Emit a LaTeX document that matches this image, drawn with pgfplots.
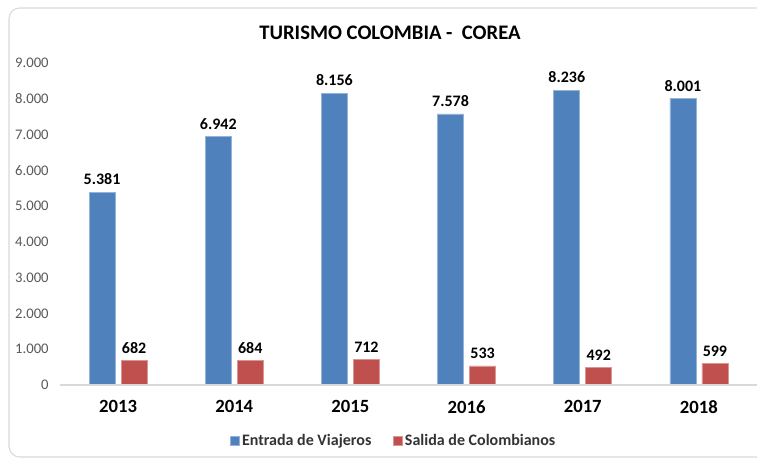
\documentclass[border=0pt]{standalone}
\usepackage{pgfplots}
\pgfplotsset{compat=1.18}
\usepackage{fontspec}
\setmainfont{Carlito}
\definecolor{cblue}{HTML}{4F81BD}
\definecolor{cred}{HTML}{C0504D}
\definecolor{tickgray}{HTML}{595959}
\definecolor{axgray}{HTML}{D9D9D9}
\begin{document}
\begin{tikzpicture}[x=1pt,y=1pt]
\path[use as bounding box] (0,0) rectangle (567.75,345);
\draw[axgray, line width=0.8pt, rounded corners=8pt] (6.75,339) rectangle (585,2.25);
\node[font=\bfseries\fontsize{15.5}{15.5}\selectfont, text=black] at (292.5,320.25) {TURISMO COLOMBIA -\ \ COREA};
\begin{axis}[
  at={(45pt,56.25pt)}, anchor=south west,
  scale only axis, width=522.75pt, height=241.5pt,
  xmin=-0.5, xmax=5.5, ymin=0, ymax=9000,
  ybar=4.5pt, bar width=19.5pt,
  axis line style={draw=none},
  axis x line*=bottom, axis y line*=left,
  xtick=data, xticklabels={2013,2014,2015,2016,2017,2018},
  x tick label style={font=\bfseries\fontsize{14}{14}\selectfont, text=black, yshift=-8pt},
  ytick={0,1000,...,9000},
  y tick label style={font=\fontsize{11}{11}\selectfont, text=tickgray, xshift=-5pt},
  major tick length=0pt,
  /pgf/number format/.cd, 1000 sep={.}, assume math mode=true,
  /pgfplots/.cd,
  nodes near coords,
  every node near coord/.append style={font=\bfseries\fontsize{12}{12}\selectfont, text=black, yshift=2pt},
  legend columns=2,
  legend style={draw=none, fill=none, at={(0.479,-0.174)}, anchor=center,
    font=\bfseries\fontsize{12}{12}\selectfont, text=black!80,
    /tikz/every even column/.append style={column sep=14pt}},
  legend image code/.code={\fill[#1] (0pt,-3.4pt) rectangle (6.8pt,3.4pt);},
  clip=false,
]
\addplot[fill=cblue, draw=cblue!60!white, line width=0.4pt] coordinates {(0,5381) (1,6942) (2,8156) (3,7578) (4,8236) (5,8001)};
\addplot[fill=cred, draw=cred!60!white, line width=0.4pt] coordinates {(0,682) (1,684) (2,712) (3,533) (4,492) (5,599)};
\legend{Entrada de Viajeros, Salida de Colombianos}
\draw[axgray, line width=0.8pt] (axis cs:-0.5,0) -- (axis cs:5.5,0);
\end{axis}
\end{tikzpicture}
\end{document}
